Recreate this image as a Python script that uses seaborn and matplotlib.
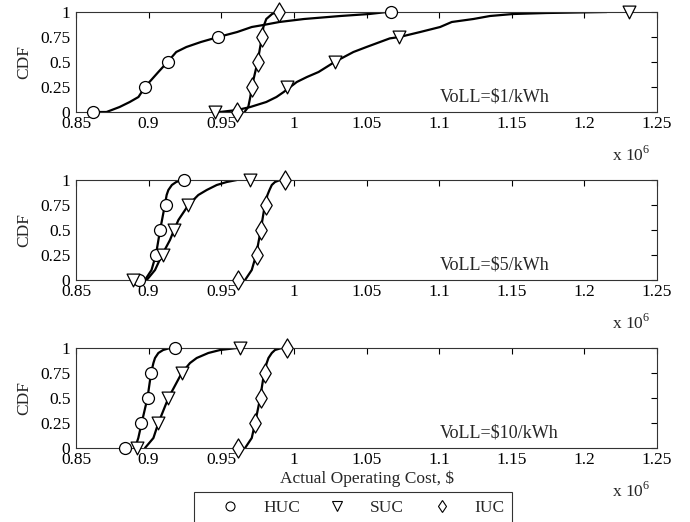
"""
CDF of actual operating cost for HUC / SUC / IUC under three VoLL levels.
"""
import numpy as np
import pandas as pd
import matplotlib
matplotlib.use('Agg')
import matplotlib.pyplot as plt
from matplotlib.lines import Line2D
import seaborn as sns

# --- data (cost in units of 1e6 $) ---
cdf_marks = [0, 0.25, 0.5, 0.75, 1]
panels = ['VoLL=$1/kWh', 'VoLL=$5/kWh', 'VoLL=$10/kWh']
schemes = ['HUC', 'SUC', 'IUC']

# VoLL = $1/kWh
huc1_p = [0, 0, .05, .1, .15, .25, .4, .5, .6, .65, .7, .75, .8, .85, .87, .9, .93, .96, .98, 1, 1]
huc1_x = [0.864, 0.871, 0.880, 0.887, 0.893, 0.8975, 0.9067, 0.913, 0.919, 0.926, 0.936, 0.948,
          0.961, 0.971, 0.979, 0.990, 1.007, 1.032, 1.052, 1.064, 1.067]
huc1_m = [0.862, 0.8975, 0.913, 0.948, 1.067]
suc1_p = [0, .02, .05, .1, .15, .2, .3, .35, .4, .5, .6, .65, .736, .75, .8, .85, .9, .93, .96, .98, .99, 1]
suc1_x = [0.949, 0.961, 0.970, 0.981, 0.988, 0.993, 1.002, 1.009, 1.017, 1.028, 1.041, 1.050, 1.066,
          1.0727, 1.087, 1.1007, 1.1087, 1.1236, 1.135, 1.151, 1.174, 1.2155]
suc1_m = [0.946, 0.995, 1.028, 1.0727, 1.2304]
iuc1_p = [0, .05, .15, .25, .5, .75, .85, .93, .98, 1]
iuc1_x = [0.966, 0.9686, 0.970, 0.971, 0.975, 0.978, 0.979, 0.981, 0.985, 0.988]
iuc1_m = [0.961, 0.971, 0.975, 0.978, 0.990]

# VoLL = $5/kWh
huc5_p = [0, .1, .25, .5, .75, .85, .9, .95, .98, 1]
huc5_x = [0.8975, 0.902, 0.905, 0.9079, 0.9112, 0.9124, 0.9136, 0.916, 0.919, 0.9228]
huc5_m = [0.8934, 0.9049, 0.9079, 0.9118, 0.9246]
suc5_p = [0, .1, .25, .4, .5, .6, .75, .85, .9, .95, .98, 1]
suc5_x = [0.8987, 0.9044, 0.9092, 0.9147, 0.9175, 0.9205, 0.9274, 0.9342, 0.940, 0.9469, 0.9538, 0.9607]
suc5_m = [0.8895, 0.9097, 0.9175, 0.9274, 0.9698]
iuc5_p = [0, .1, .25, .5, .75, .85, .9, .95, .98, 1]
iuc5_x = [0.9664, 0.971, 0.974, 0.9772, 0.980, 0.9818, 0.9832, 0.9848, 0.987, 0.9905]
iuc5_m = [0.9618, 0.9744, 0.9772, 0.9806, 0.994]

# VoLL = $10/kWh
huc10_p = [0, .1, .25, .5, .75, .85, .9, .95, .98, 1]
huc10_x = [0.8906, 0.8929, 0.8952, 0.8992, 0.9017, 0.9033, 0.9044, 0.9067, 0.910, 0.9147]
huc10_m = [0.8837, 0.8948, 0.8994, 0.9017, 0.9182]
suc10_p = [0, .1, .25, .5, .75, .85, .9, .95, .98, 1]
suc10_x = [0.8975, 0.9033, 0.9067, 0.9136, 0.9228, 0.9285, 0.9331, 0.9411, 0.9492, 0.9607]
suc10_m = [0.8918, 0.9067, 0.9136, 0.9228, 0.963]
iuc10_p = [0, .1, .25, .5, .75, .85, .9, .95, .98, 1]
iuc10_x = [0.9664, 0.971, 0.9733, 0.9768, 0.9795, 0.9813, 0.9825, 0.9848, 0.987, 0.9916]
iuc10_m = [0.9613, 0.9733, 0.9772, 0.9799, 0.9951]

curves = [
    [(huc1_x, huc1_p, huc1_m), (suc1_x, suc1_p, suc1_m), (iuc1_x, iuc1_p, iuc1_m)],
    [(huc5_x, huc5_p, huc5_m), (suc5_x, suc5_p, suc5_m), (iuc5_x, iuc5_p, iuc5_m)],
    [(huc10_x, huc10_p, huc10_m), (suc10_x, suc10_p, suc10_m), (iuc10_x, iuc10_p, iuc10_m)],
]

# --- style ---
sns.set_theme(style='white')
plt.rcParams['font.family'] = ['Liberation Serif', 'DejaVu Serif']
plt.rcParams['mathtext.fontset'] = 'custom'
plt.rcParams['mathtext.rm'] = 'Liberation Serif'
plt.rcParams['font.size'] = 12.5

markers = {'HUC': ('o', 74), 'SUC': ('v', 85), 'IUC': ('d', 95)}
xticks = np.round(np.arange(0.85, 1.2501, 0.05), 2)
yticks = [0, 0.25, 0.5, 0.75, 1]

fig = plt.figure(figsize=(6.9, 5.22), dpi=100)
bottoms = [1 - 112 / 522, 1 - 280 / 522, 1 - 448 / 522]

for i, (title, series) in enumerate(zip(panels, curves)):
    ax = fig.add_axes([76 / 690, bottoms[i], 581 / 690, 100 / 522])
    for name, (xs, ps, ms) in zip(schemes, series):
        df = pd.DataFrame({'cost': xs, 'cdf': ps})
        sns.lineplot(data=df, x='cost', y='cdf', sort=False, estimator=None,
                     color='black', linewidth=1.6, ax=ax, zorder=2)
        mk, sz = markers[name]
        dm = pd.DataFrame({'cost': ms, 'cdf': cdf_marks})
        sns.scatterplot(data=dm, x='cost', y='cdf', marker=mk, s=sz,
                        facecolor='white', edgecolor='black', linewidth=0.9,
                        ax=ax, zorder=3, clip_on=False)
    ax.set_xlim(0.85, 1.25)
    ax.set_ylim(0, 1)
    ax.set_xticks(xticks)
    ax.set_xticklabels([f'{v:g}' for v in xticks])
    ax.set_yticks(yticks)
    ax.set_yticklabels([f'{v:g}' for v in yticks])
    ax.tick_params(direction='in', top=True, right=True, length=4, width=0.8,
                   labelsize=12.5, colors='black')
    ax.tick_params(axis='x', pad=3)
    ax.tick_params(axis='y', pad=4)
    for sp in ax.spines.values():
        sp.set_color('#333333')
        sp.set_linewidth(0.8)
    ax.set_ylabel('CDF', fontsize=12.5, labelpad=6)
    ax.set_xlabel('')
    ax.text(0.6265, 0.153, title, transform=ax.transAxes, ha='left', va='center', fontsize=13)
    ax.text(0.988, -0.43, r'x 10$^{6}$', transform=ax.transAxes, ha='right', va='center', fontsize=12.5)
    if i == 2:
        ax.set_xlabel('Actual Operating Cost, $', fontsize=12.5, labelpad=2)

handles = [Line2D([], [], linestyle='none', marker=markers[n][0], markersize=6.5,
                  markerfacecolor='white', markeredgecolor='black', markeredgewidth=0.8)
           for n in schemes]
leg = fig.legend(handles, schemes, loc='upper center', bbox_to_anchor=(353 / 690, 1 - 492 / 522),
                 ncol=3, frameon=True, fancybox=False, edgecolor='black', borderaxespad=0,
                 handlelength=3.3, handletextpad=0.25, columnspacing=0.5, borderpad=0.45,
                 fontsize=12.5)
leg.get_frame().set_linewidth(0.8)

plt.savefig('out.png', dpi=100)
plt.close()
print("Saved: out.png")
